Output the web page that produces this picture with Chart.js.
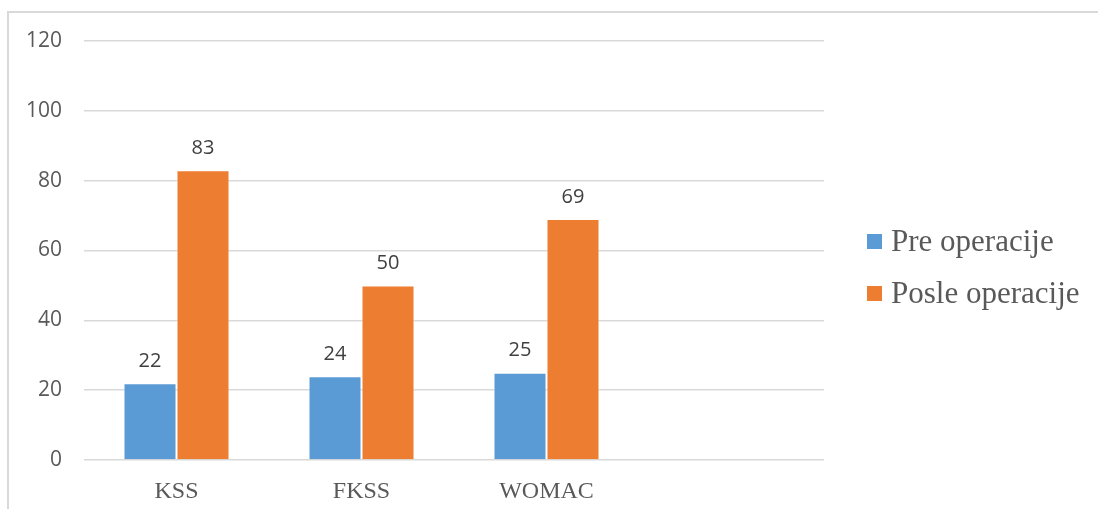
<!DOCTYPE html>
<html>
<head>
<meta charset="utf-8">
<script src="https://cdn.jsdelivr.net/npm/chart.js@4/dist/chart.umd.min.js"></script>
<style>
    body { margin: 0; background: #fff; width: 1098px; height: 509px; overflow: hidden; position: relative; }
    #frame { position: absolute; left: 7px; top: 11px; width: 1100px; height: 510px; border-top: 2px solid #d9d9d9; border-left: 2px solid #d9d9d9; }
    #wrap { position: absolute; left: 0; top: 0; width: 1089px; height: 496px; }
    #legend { position: absolute; left: 858px; top: 210px; font-family: 'Liberation Serif', 'Times New Roman', serif; font-size: 31px; color: #595959; }
    #legend div { display: flex; align-items: center; height: 36px; margin-bottom: 16px; white-space: nowrap; }
    #legend span.box { display: inline-block; width: 15px; height: 15px; margin-right: 9px; }
</style>
</head>
<body>
<div id="frame">
    <div id="wrap"><canvas id="chart"></canvas></div>
    <div id="legend"></div>
</div>
<script>
const categories = ['KSS', 'FKSS', 'WOMAC', ''];
const preOp = [22, 24, 25];
const postOp = [83, 50, 69];
const seriesNames = ['Pre operacije', 'Posle operacije'];
const seriesColors = ['#5B9BD5', '#ED7D31'];
const yTicks = [0, 20, 40, 60, 80, 100, 120];

document.addEventListener('DOMContentLoaded', () => {
    const valueLabels = {
        id: 'valueLabels',
        afterDatasetsDraw(chart) {
            const ctx = chart.ctx;
            ctx.save();
            ctx.font = '20px "Open Sans", sans-serif';
            ctx.fillStyle = '#404040';
            ctx.textAlign = 'center';
            ctx.textBaseline = 'bottom';
            chart.data.datasets.forEach((ds, i) => {
                chart.getDatasetMeta(i).data.forEach((bar, j) => {
                    if (ds.data[j] == null) return;
                    ctx.fillText(ds.data[j], bar.x, bar.y - 12);
                });
            });
            ctx.restore();
        }
    };

    const chart = new Chart(document.getElementById('chart').getContext('2d'), {
        type: 'bar',
        data: {
            labels: categories,
            datasets: [
                { label: seriesNames[0], data: preOp, backgroundColor: seriesColors[0] },
                { label: seriesNames[1], data: postOp, backgroundColor: seriesColors[1] }
            ]
        },
        options: {
            responsive: true,
            maintainAspectRatio: false,
            animation: false,
            datasets: {
                bar: {
                    categoryPercentage: 0.573,
                    barPercentage: 1,
                    borderWidth: 1,
                    borderColor: 'rgba(255,255,255,0.5)'
                }
            },
            layout: { autoPadding: false, padding: { left: 0, right: 274, top: 28, bottom: 0 } },
            plugins: {
                legend: { display: false },
                tooltip: { enabled: false }
            },
            scales: {
                x: {
                    grid: { display: false },
                    border: { display: false },
                    afterFit: axis => {
                        axis.height = 49;
                        axis.paddingLeft = 0;
                        axis.paddingRight = 0;
                    },
                    ticks: {
                        color: '#595959',
                        padding: 9,
                        font: { family: "'Liberation Serif', 'Times New Roman', serif", size: 24 }
                    }
                },
                y: {
                    min: 0,
                    max: 120,
                    afterBuildTicks: axis => { axis.ticks = yTicks.map(v => ({ value: v })); },
                    afterFit: axis => {
                        axis.width = 75;
                        axis.paddingTop = 0;
                        axis.paddingBottom = 0;
                    },
                    grid: { color: '#d9d9d9', lineWidth: 1.5, drawTicks: false },
                    border: { display: false },
                    ticks: {
                        color: '#595959',
                        padding: 22,
                        font: { family: "'Open Sans', sans-serif", size: 21 }
                    }
                }
            }
        },
        plugins: [valueLabels]
    });

    const legend = document.getElementById('legend');
    chart.data.datasets.forEach(ds => {
        const row = document.createElement('div');
        const box = document.createElement('span');
        box.className = 'box';
        box.style.background = ds.backgroundColor;
        row.appendChild(box);
        row.appendChild(document.createTextNode(ds.label));
        legend.appendChild(row);
    });
});
</script>
</body>
</html>
